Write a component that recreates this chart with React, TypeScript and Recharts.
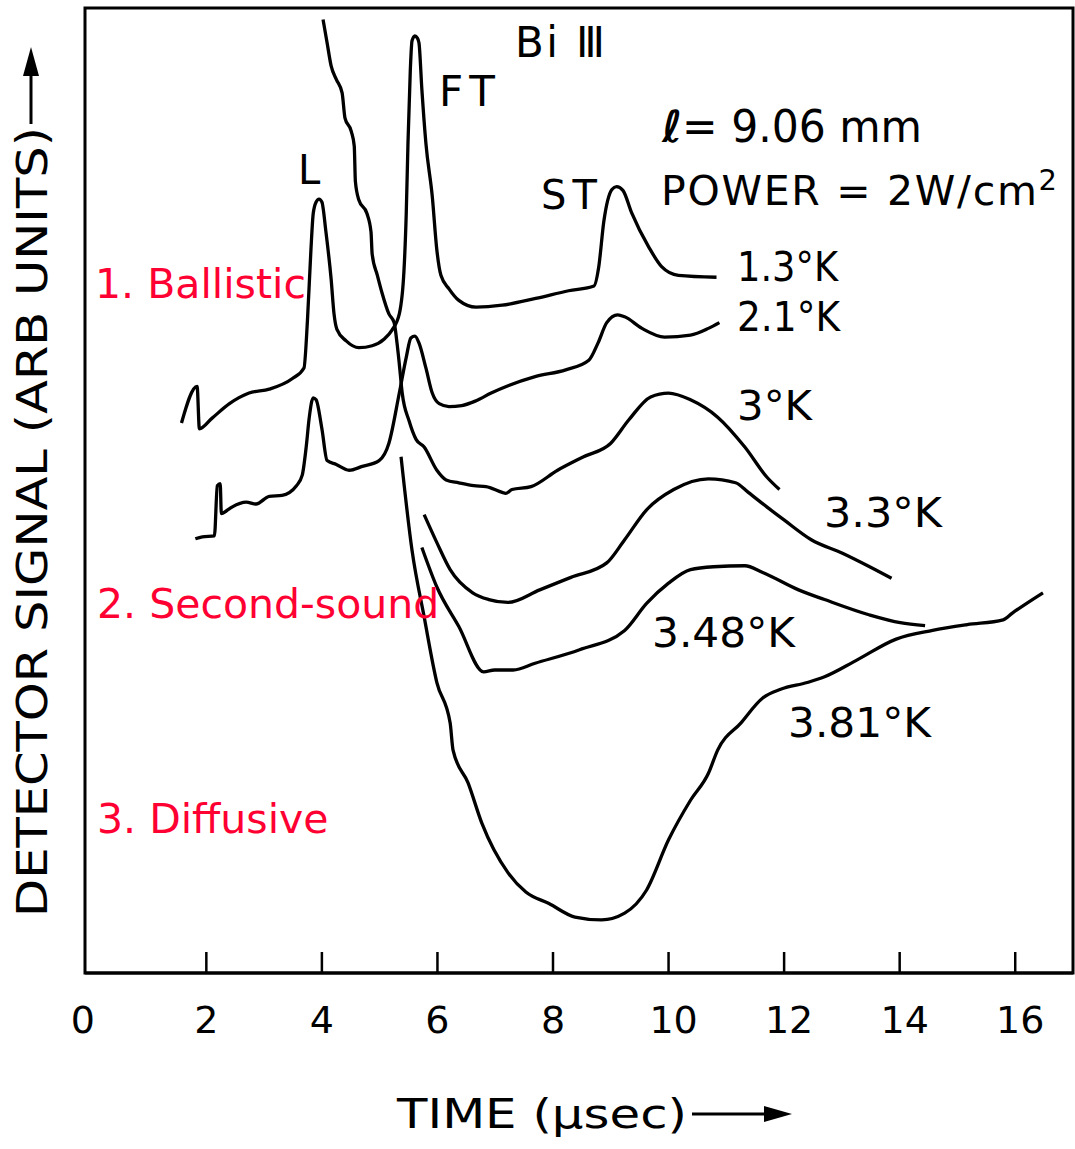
import { LineChart, Line, XAxis, YAxis, ReferenceArea } from 'recharts';

const TICKS = [0, 2, 4, 6, 8, 10, 12, 14, 16];

// [time (µs), detector signal (arb units)]
const K13 = [
  [1.57, 57.0], [1.84, 60.8], [1.88, 56.4], [2.10, 57.5], [2.40, 59.0], [2.74, 60.1], [3.09, 60.5],
  [3.49, 61.6], [3.69, 62.7], [3.75, 67.6], [3.81, 74.9], [3.85, 78.7], [3.90, 79.9], [3.95, 80.2],
  [4.00, 79.9], [4.07, 76.8], [4.16, 71.9], [4.21, 68.3], [4.26, 66.7], [4.42, 65.5], [4.64, 64.8],
  [4.87, 65.0], [5.08, 65.7], [5.21, 66.6], [5.34, 68.3], [5.42, 72.7], [5.46, 78.7], [5.49, 86.0],
  [5.53, 93.5], [5.56, 96.6], [5.61, 97.1], [5.65, 96.9], [5.68, 96.4], [5.73, 91.6], [5.80, 86.0],
  [5.91, 80.5], [5.99, 74.9], [6.06, 72.3], [6.20, 70.9], [6.37, 69.7], [6.67, 69.0], [7.12, 69.2],
  [7.70, 69.9], [8.27, 70.7], [8.71, 71.2], [8.79, 73.1], [8.88, 77.9], [9.02, 81.2], [9.10, 81.5],
  [9.21, 81.1], [9.36, 78.8], [9.66, 75.2], [9.88, 73.2], [10.17, 72.3], [10.83, 72.1],
];

const K21 = [
  [1.81, 45.0], [1.93, 45.2], [2.14, 45.3], [2.19, 50.5], [2.24, 50.7], [2.26, 47.6], [2.35, 47.9],
  [2.45, 48.3], [2.69, 48.8], [2.86, 48.6], [3.09, 49.4], [3.31, 49.5], [3.56, 50.5], [3.66, 51.6],
  [3.73, 54.6], [3.78, 57.5], [3.85, 59.6], [3.90, 59.4], [4.00, 56.4], [4.09, 53.1], [4.25, 52.7],
  [4.47, 52.1], [4.70, 52.5], [4.99, 53.1], [5.16, 54.9], [5.34, 60.1], [5.46, 63.8], [5.54, 65.8],
  [5.61, 66.0], [5.68, 65.3], [5.80, 62.7], [5.91, 60.1], [6.03, 59.0], [6.20, 58.7], [6.42, 58.8],
  [6.67, 59.3], [6.93, 60.1], [7.69, 61.8], [8.22, 62.5], [8.62, 63.5], [8.78, 65.3], [8.93, 67.4],
  [9.12, 68.2], [9.24, 68.0], [9.54, 66.8], [9.93, 65.9], [10.38, 66.1], [10.69, 66.8], [10.88, 67.4],
];

const K30 = [
  [4.02, 98.8], [4.09, 96.4], [4.16, 94.0], [4.25, 92.6], [4.35, 91.2], [4.40, 88.6], [4.51, 87.2],
  [4.56, 85.7], [4.58, 82.0], [4.64, 80.1], [4.78, 78.7], [4.85, 76.8], [4.87, 74.5], [4.96, 72.3],
  [5.04, 70.5], [5.16, 68.3], [5.25, 67.4], [5.30, 65.3], [5.34, 63.1], [5.39, 60.1], [5.51, 57.2],
  [5.63, 55.3], [5.77, 54.5], [5.99, 52.1], [6.15, 51.1], [6.37, 50.8], [6.63, 50.5], [6.84, 50.4],
  [7.12, 49.8], [7.18, 49.7], [7.29, 50.1], [7.62, 50.4], [8.08, 52.1], [8.53, 53.5], [9.00, 54.9],
  [9.31, 57.3], [9.69, 59.7], [10.00, 60.1], [10.38, 59.4], [10.85, 57.6], [11.32, 54.5],
  [11.70, 51.4], [11.92, 50.1],
];

const K33 = [
  [5.77, 47.5], [5.99, 44.6], [6.22, 41.8], [6.61, 39.4], [6.89, 38.7], [7.22, 38.4], [7.77, 39.7],
  [8.31, 41.0], [8.93, 42.5], [9.24, 44.9], [9.62, 48.0], [10.09, 50.1], [10.69, 51.2], [11.16, 50.8],
  [11.38, 49.8], [11.70, 48.3], [12.01, 46.9], [12.47, 44.9], [13.01, 43.5], [13.48, 42.1],
  [13.86, 40.9],
];

const K348 = [
  [5.73, 44.1], [5.99, 40.0], [6.37, 35.9], [6.80, 31.2], [6.99, 31.4], [7.31, 31.4], [7.69, 32.1],
  [8.46, 33.5], [9.24, 35.5], [9.62, 38.3], [10.00, 40.4], [10.38, 41.8], [10.78, 42.1], [11.32, 42.2],
  [11.63, 41.5], [12.25, 39.7], [12.70, 38.7], [13.48, 37.1], [14.01, 36.3], [14.44, 36.0],
];

const K381 = [
  [5.37, 53.5], [5.56, 43.8], [5.77, 36.9], [5.99, 30.1], [6.22, 25.9], [6.27, 23.1], [6.53, 19.7],
  [6.77, 15.5], [7.22, 10.4], [7.53, 8.4], [7.93, 7.2], [8.38, 5.8], [8.84, 5.5], [9.24, 6.2],
  [9.62, 8.6], [10.00, 13.8], [10.38, 17.9], [10.69, 20.7], [10.85, 23.1], [11.25, 25.9], [11.63, 28.5],
  [11.94, 29.4], [12.40, 30.1], [12.70, 30.7], [13.25, 32.4], [13.94, 34.6], [14.57, 35.5],
  [15.17, 36.1], [15.79, 36.6], [15.95, 37.3], [16.48, 39.4],
];

const SERIES = [
  { name: '1.3°K', pts: K13 },
  { name: '2.1°K', pts: K21 },
  { name: '3°K', pts: K30 },
  { name: '3.3°K', pts: K33 },
  { name: '3.48°K', pts: K348 },
  { name: '3.81°K', pts: K381 },
];

const FONT = 'DejaVu Sans, Verdana, sans-serif';
const RED = '#ff0033';

function TimeTick({ x, y, payload }: any) {
  const v = payload.value;
  const dx = v === 0 ? -8 : v >= 10 ? 5 : 0;
  return (
    <g>
      {v !== 0 && <line x1={x} y1={y} x2={x} y2={y - 21} stroke="#000" strokeWidth={2.5} />}
      <text x={x + dx} y={y + 60} textAnchor="middle" fontSize={38} fontFamily={FONT} fill="#000">
        {v}
      </text>
    </g>
  );
}

function Annotations() {
  const black = { fontFamily: FONT, fill: '#000' };
  const red = { fontFamily: FONT, fill: RED, fontSize: 41 };
  return (
    <svg
      width={1075}
      height={1149}
      style={{ position: 'absolute', left: 0, top: 0, pointerEvents: 'none' }}
    >
      {/* y axis title */}
      <text
        transform="translate(47,917) rotate(-90)"
        fontSize={43}
        textLength={790}
        lengthAdjust="spacingAndGlyphs"
        {...black}
      >
        DETECTOR SIGNAL (ARB UNITS)
      </text>
      <line x1={31} y1={124} x2={31} y2={70} stroke="#000" strokeWidth={3} />
      <polygon points="23,76 31,47 39,76" fill="#000" />

      {/* x axis title */}
      <text x={397} y={1128} fontSize={41} textLength={290} lengthAdjust="spacingAndGlyphs" {...black}>
        TIME (μsec)
      </text>
      <line x1={692} y1={1114} x2={770} y2={1114} stroke="#000" strokeWidth={3} />
      <polygon points="764,1106 792,1114 764,1122" fill="#000" />

      {/* peak markers */}
      <text x={298} y={184} fontSize={40} {...black}>L</text>
      <text x={439} y={106} fontSize={42} textLength={56} {...black}>FT</text>
      <text x={515} y={57} fontSize={42} textLength={90} {...black}>Bi Ⅲ</text>
      <text x={541} y={209} fontSize={40} textLength={56} {...black}>ST</text>

      <text x={662} y={142} fontSize={44} textLength={260} lengthAdjust="spacingAndGlyphs" {...black}>
        <tspan fontWeight="bold" fontStyle="italic">ℓ</tspan>= 9.06 mm
      </text>
      <text x={661} y={205} fontSize={41} textLength={396} {...black}>
        POWER = 2W/cm<tspan dy={-15} fontSize={29}>2</tspan>
      </text>

      {/* temperature labels */}
      <text x={737} y={281} fontSize={40} textLength={101} lengthAdjust="spacingAndGlyphs" {...black}>1.3°K</text>
      <text x={737} y={331} fontSize={40} textLength={103} lengthAdjust="spacingAndGlyphs" {...black}>2.1°K</text>
      <text x={737} y={420} fontSize={40} textLength={75} lengthAdjust="spacingAndGlyphs" {...black}>3°K</text>
      <text x={824} y={527} fontSize={40} textLength={118} lengthAdjust="spacingAndGlyphs" {...black}>3.3°K</text>
      <text x={652} y={647} fontSize={40} textLength={143} lengthAdjust="spacingAndGlyphs" {...black}>3.48°K</text>
      <text x={788} y={737} fontSize={40} textLength={143} lengthAdjust="spacingAndGlyphs" {...black}>3.81°K</text>

      {/* regime notes */}
      <text x={95} y={298} {...red}>1. Ballistic</text>
      <text x={97} y={618} {...red}>2. Second-sound</text>
      <text x={97} y={833} {...red}>3. Diffusive</text>
    </svg>
  );
}

export default function App() {
  return (
    <div style={{ position: 'absolute', left: 0, top: 0, width: 1075, height: 1149, background: '#fff' }}>
      <LineChart width={1075} height={1149} margin={{ top: 8, right: 2, left: 85, bottom: 0 }}>
        <XAxis
          dataKey="t"
          type="number"
          domain={[-0.1, 17]}
          ticks={TICKS}
          interval={0}
          height={176}
          tickSize={0}
          tickMargin={0}
          tickLine={false}
          axisLine={{ stroke: '#000', strokeWidth: 3 }}
          tick={<TimeTick />}
        />
        <YAxis type="number" domain={[0, 100]} hide />
        <ReferenceArea
          x1={-0.1}
          x2={17}
          y1={0}
          y2={100}
          fill="none"
          fillOpacity={0}
          stroke="#000"
          strokeWidth={3}
          ifOverflow="visible"
        />
        {SERIES.map((s) => (
          <Line
            key={s.name}
            name={s.name}
            data={s.pts.map(([t, v]) => ({ t, v }))}
            dataKey="v"
            type="monotoneX"
            stroke="#000"
            strokeWidth={3.3}
            dot={false}
            activeDot={false}
            isAnimationActive={false}
          />
        ))}
      </LineChart>
      <Annotations />
    </div>
  );
}
